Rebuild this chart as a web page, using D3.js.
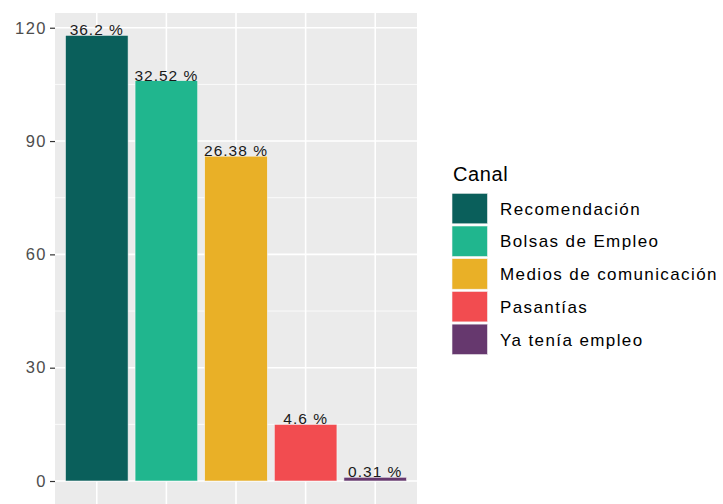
<!DOCTYPE html>
<html>
<head>
<meta charset="utf-8">
<script src="https://cdn.jsdelivr.net/npm/d3@7"></script>
<style>
  body { margin: 0; background: #fff; }
  text { font-family: "Liberation Sans", Arial, sans-serif; }
</style>
</head>
<body>
<div id="chart"></div>
<script>
const categories = ['Recomendación', 'Bolsas de Empleo', 'Medios de comunicación', 'Pasantías', 'Ya tenía empleo'];
const counts = [118, 106, 86, 15, 1];
const percentLabels = ['36.2 %', '32.52 %', '26.38 %', '4.6 %', '0.31 %'];
const colors = ['#0a5f5b', '#20b68e', '#e9b027', '#f24c50', '#66386e'];
const yTicks = [0, 30, 60, 90, 120];
const yMinor = [15, 45, 75, 105];

const width = 723, height = 504;
const panel = { left: 55, right: 417, top: 13, bottom: 504 };

const svg = d3.select('#chart').append('svg')
  .attr('width', width)
  .attr('height', height);

const yMax = d3.max(counts) * 1.05;
const y = d3.scaleLinear()
  .domain([-yMax * 0.05 / 1.05, yMax])
  .range([503.3, panel.top]);

const x = d3.scaleBand()
  .domain(categories)
  .range([panel.left, panel.right])
  .paddingInner(0.1)
  .paddingOuter(0.15);

// panel background
svg.append('rect')
  .attr('x', panel.left)
  .attr('y', panel.top)
  .attr('width', panel.right - panel.left)
  .attr('height', panel.bottom - panel.top)
  .attr('fill', '#ebebeb');

// minor grid
svg.selectAll('.minor')
  .data(yMinor)
  .join('line')
  .attr('x1', panel.left).attr('x2', panel.right)
  .attr('y1', d => y(d)).attr('y2', d => y(d))
  .attr('stroke', '#fff').attr('stroke-width', 0.8);

// major grid
svg.selectAll('.major')
  .data(yTicks)
  .join('line')
  .attr('x1', panel.left).attr('x2', panel.right)
  .attr('y1', d => y(d)).attr('y2', d => y(d))
  .attr('stroke', '#fff').attr('stroke-width', 1.6);

svg.selectAll('.vgrid')
  .data(categories)
  .join('line')
  .attr('x1', d => x(d) + x.bandwidth() / 2).attr('x2', d => x(d) + x.bandwidth() / 2)
  .attr('y1', panel.top).attr('y2', panel.bottom)
  .attr('stroke', '#fff').attr('stroke-width', 1.6);

// bars
svg.selectAll('.bar')
  .data(categories)
  .join('rect')
  .attr('x', d => x(d))
  .attr('width', x.bandwidth())
  .attr('y', (d, i) => y(counts[i]))
  .attr('height', (d, i) => y(0) - y(counts[i]))
  .attr('fill', (d, i) => colors[i])
  .attr('stroke', '#f4f4f4')
  .attr('stroke-width', 0.6);

// bar labels
svg.selectAll('.lbl')
  .data(categories)
  .join('text')
  .attr('x', d => x(d) + x.bandwidth() / 2)
  .attr('y', (d, i) => y(counts[i]))
  .attr('text-anchor', 'middle')
  .attr('font-size', 15.5)
  .attr('letter-spacing', 1)
  .attr('fill', '#1a1a1a')
  .text((d, i) => percentLabels[i]);

// y axis
const yAxis = svg.append('g')
  .attr('transform', `translate(${panel.left},0)`)
  .call(d3.axisLeft(y).tickValues(yTicks).tickSize(5).tickPadding(3));
yAxis.select('.domain').remove();
yAxis.selectAll('.tick line').attr('stroke', '#333').attr('stroke-width', 1.2);
yAxis.selectAll('.tick text')
  .attr('font-size', 16.5)
  .attr('letter-spacing', 1.5)
  .attr('fill', '#4d4d4d')
  .attr('font-family', '"Liberation Sans", Arial, sans-serif');

// x axis ticks (labels fall outside the picture)
const xAxis = svg.append('g')
  .attr('transform', `translate(0,${panel.bottom})`)
  .call(d3.axisBottom(x).tickSize(4).tickFormat(''));
xAxis.select('.domain').remove();
xAxis.selectAll('.tick line').attr('stroke', '#333');

// legend
const legend = svg.append('g').attr('transform', 'translate(452,0)');
legend.append('text')
  .attr('x', 1).attr('y', 181)
  .attr('font-size', 20)
  .attr('letter-spacing', 0.6)
  .attr('fill', '#000')
  .text('Canal');

const keyStep = 32.7;
const keys = legend.selectAll('.key')
  .data(categories)
  .join('g')
  .attr('transform', (d, i) => `translate(0,${193.3 + i * keyStep})`);
keys.append('rect')
  .attr('width', 35.5)
  .attr('height', 30.5)
  .attr('fill', (d, i) => colors[i])
  .attr('stroke', '#f4f4f4')
  .attr('stroke-width', 0.6);
keys.append('text')
  .attr('x', 48)
  .attr('y', 15.5)
  .attr('dy', '0.35em')
  .attr('font-size', 17)
  .attr('letter-spacing', 1.4)
  .attr('fill', '#000')
  .text(d => d);
</script>
</body>
</html>
